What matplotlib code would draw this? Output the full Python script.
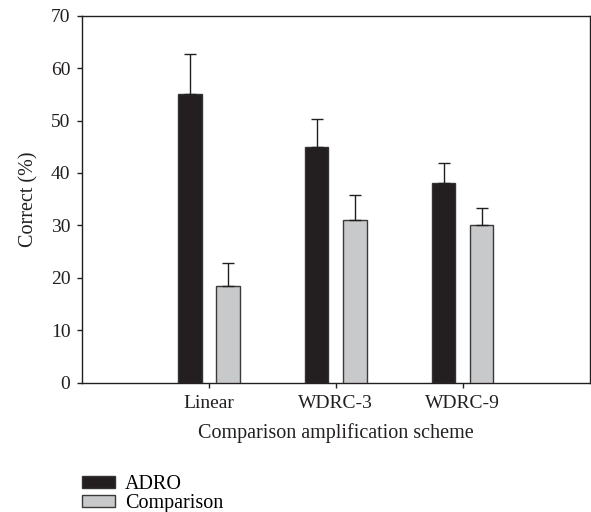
import numpy as np
import matplotlib
matplotlib.use('Agg')
import matplotlib.pyplot as plt

# data
schemes = ['Linear', 'WDRC-3', 'WDRC-9']
adro = [55.0, 45.0, 38.0]
adro_err = [7.6, 5.3, 3.9]
comparison = [18.5, 31.0, 30.0]
comparison_err = [4.4, 4.8, 3.3]

plt.rcParams['font.family'] = ['Liberation Serif', 'DejaVu Serif']

fig = plt.figure(figsize=(5.91, 5.12), dpi=100)
ax = fig.add_axes([0.1387, 0.2529, 0.9975 - 0.1387, 0.9693 - 0.2529])

x = np.arange(1, len(schemes) + 1)
w = 0.185
off = 0.15
err_kw = dict(ecolor='#231f20', elinewidth=1.0, capsize=4.3, capthick=1.0)

ax.bar(x - off, adro, w, color='#231f20', edgecolor='#333333', linewidth=1.0,
       yerr=[np.zeros(len(adro)), adro_err], error_kw=err_kw, label='ADRO', zorder=3)
ax.bar(x + off, comparison, w, color='#c8c9cb', edgecolor='#3a3a3a', linewidth=1.0,
       yerr=[np.zeros(len(comparison)), comparison_err], error_kw=err_kw,
       label='Comparison', zorder=3)

ax.set_xlim(0, 4)
ax.set_ylim(0, 70)
ax.set_xticks(x)
ax.set_xticklabels(schemes)
ax.set_yticks(np.arange(0, 71, 10))
ax.tick_params(axis='both', direction='out', length=3.8, width=1.0, colors='#231f20',
               labelsize=14)
ax.tick_params(axis='y', pad=4.5)
ax.tick_params(axis='x', pad=5)
for s in ax.spines.values():
    s.set_linewidth(1.0)
    s.set_color('#231f20')

ax.set_xlabel('Comparison amplification scheme', fontsize=14.5, labelpad=8, color='#231f20')
ax.set_ylabel('Correct (%)', fontsize=14.5, labelpad=9, color='#231f20')

fig.legend(loc='upper left', bbox_to_anchor=(0.138, 0.072),
           frameon=False, fontsize=14.5, handlelength=1.65, handleheight=0.55,
           handletextpad=0.5, labelspacing=0.0, borderpad=0, borderaxespad=0)

fig.savefig('out.png', dpi=100)
